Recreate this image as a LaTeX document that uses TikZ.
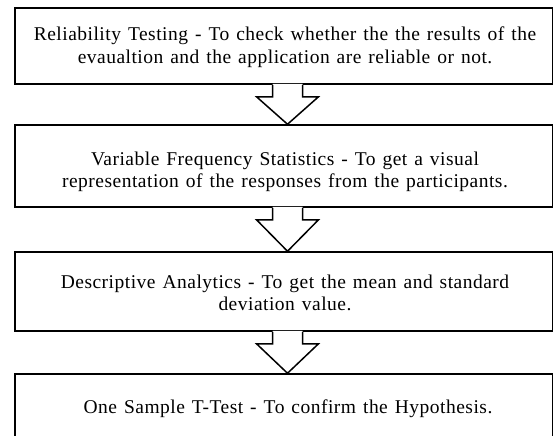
\documentclass[tikz,border=0pt]{standalone}
\usepackage{fontspec}
\setmainfont{Liberation Serif}[LetterSpace=2.5,WordSpace=1.3]
\usetikzlibrary{calc}
\begin{document}
\begin{tikzpicture}[x=1pt,y=-1pt,
  box/.style={draw=black,line width=1.5pt,rectangle,inner sep=0pt,minimum width=537.5pt},
  txt/.style={align=center,inner sep=0pt,font=\fontsize{19.5}{22.5}\selectfont},
  hollow/.style={draw=black,line width=1.5pt,line join=miter}]
\useasboundingbox (0,0) rectangle (554,436);
\clip (0,0) rectangle (554,436);
\coordinate (ax) at (287.5,0);
% boxes
\node[box,minimum height=76pt] (b1) at (283.75,46) {};
\node[box,minimum height=82pt] (b2) at (283.75,166) {};
\node[box,minimum height=79pt] (b3) at (283.75,291.5) {};
\node[box,minimum height=90pt] (b4) at (283.75,419) {};
% texts
\node[txt] (t1) at (285,47) {Reliability Testing - To check whether the the results of the\\evaualtion and the application are reliable or not.};
\node[txt] (t2) at (285,172) {Variable Frequency Statistics - To get a visual\\representation of the responses from the participants.};
\node[txt] (t3) at (285,293) {Descriptive Analytics - To get the mean and standard\\deviation value.};
\node[txt] (t4) at (288,408.5) {One Sample T-Test - To confirm the Hypothesis.};
% arrows
\foreach \a/\b in {b1/b2,b2/b3,b3/b4}{
  \fill[white] ($(\a.south-|ax)+(-15,-0.8)$) -- ($(\a.south-|ax)+(-15,12)$) -- ($(\a.south-|ax)+(-31,12)$) -- (\b.north-|ax) -- ($(\a.south-|ax)+(31,12)$) -- ($(\a.south-|ax)+(15,12)$) -- ($(\a.south-|ax)+(15,-0.8)$) -- cycle;
  \draw[hollow] ($(\a.south-|ax)+(-15,0)$) -- ($(\a.south-|ax)+(-15,12)$) -- ($(\a.south-|ax)+(-31,12)$) -- (\b.north-|ax) -- ($(\a.south-|ax)+(31,12)$) -- ($(\a.south-|ax)+(15,12)$) -- ($(\a.south-|ax)+(15,0)$);
}
\end{tikzpicture}
\end{document}
